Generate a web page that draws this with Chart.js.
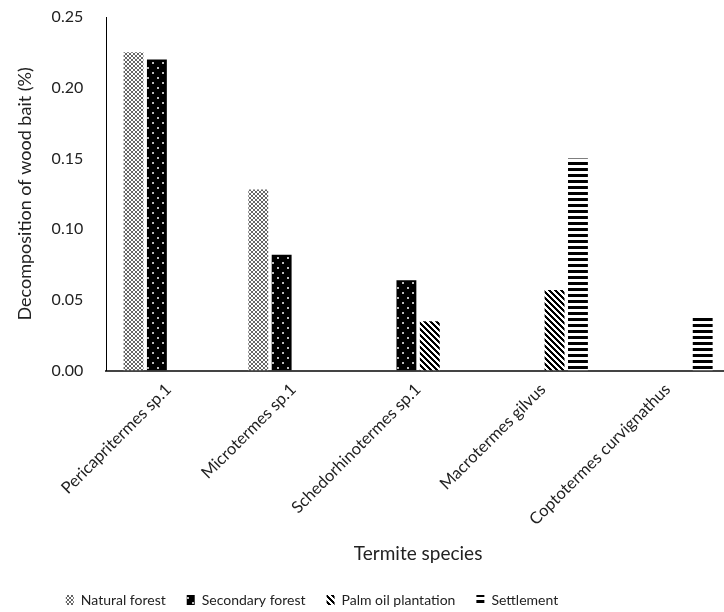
<!DOCTYPE html>
<html>
<head>
<meta charset="utf-8">
<script src="https://cdn.jsdelivr.net/npm/chart.js@4.4.1/dist/chart.umd.min.js"></script>
<style>
  html, body { margin: 0; padding: 0; background: #fff; overflow: hidden; }
  #wrap { width: 730px; height: 612px; }
</style>
</head>
<body>
<div id="wrap"><canvas id="barChart" width="730" height="612"></canvas></div>
<script>
var species = ["Pericapritermes sp.1", "Microtermes sp.1", "Schedorhinotermes sp.1", "Macrotermes gilvus", "Coptotermes curvignathus"];
var naturalForest = [0.225, 0.128, 0, 0, 0];
var secondaryForest = [0.220, 0.082, 0.064, 0, 0];
var palmOil = [0, 0, 0.035, 0.057, 0];
var settlement = [0, 0, 0, 0.150, 0.038];
var yTicks = [0, 0.05, 0.10, 0.15, 0.20, 0.25];

// build the fill patterns (Excel style hatches)
function makePattern(size, draw) {
  var c = document.createElement("canvas");
  c.width = size;
  c.height = size;
  var ctx = c.getContext("2d");
  draw(ctx, size);
  return document.getElementById("barChart").getContext("2d").createPattern(c, "repeat");
}

var latticeFill = makePattern(4, function (ctx, n) {
  ctx.fillStyle = "#fff";
  ctx.fillRect(0, 0, n, n);
  ctx.fillStyle = "#666";
  for (var i = 0; i < n; i++) {
    ctx.fillRect(i, i, 1, 1);
    ctx.fillRect(n - 1 - i, i, 1, 1);
  }
});

var dottedFill = makePattern(10, function (ctx, n) {
  ctx.fillStyle = "#000";
  ctx.fillRect(0, 0, n, n);
  ctx.fillStyle = "#bbb";
  ctx.fillRect(2, 2, 2, 2);
  ctx.fillRect(7, 7, 2, 2);
});

var diagonalFill = makePattern(6, function (ctx, n) {
  ctx.fillStyle = "#fff";
  ctx.fillRect(0, 0, n, n);
  ctx.fillStyle = "#000";
  for (var y = 0; y < n; y++) {
    for (var k = 0; k < 3; k++) {
      ctx.fillRect((y + k) % n, y, 1, 1);
    }
  }
});

var stripeFill = makePattern(6, function (ctx, n) {
  ctx.fillStyle = "#fff";
  ctx.fillRect(0, 0, n, n);
  ctx.fillStyle = "#000";
  ctx.fillRect(0, 0, n, 3);
});

var font = "Lato, 'Open Sans', sans-serif";

// the legend in the picture sits left of centre and a bit lower
var legendShift = {
  id: "legendShift",
  afterLayout: function (chart) {
    chart.legend.left -= 53;
    chart.legend.right -= 53;
    chart.legend.top += 5;
    chart.legend.bottom += 5;
  },
};

var data = {
  labels: species,
  datasets: [
    { label: "Natural forest", data: naturalForest, backgroundColor: latticeFill },
    { label: "Secondary forest", data: secondaryForest, backgroundColor: dottedFill },
    { label: "Palm oil plantation", data: palmOil, backgroundColor: diagonalFill },
    { label: "Settlement", data: settlement, backgroundColor: stripeFill },
  ],
};

var options = {
  responsive: false,
  animation: false,
  devicePixelRatio: 1,
  layout: { padding: { top: 17, right: 0, left: 0, bottom: 0 } },
  datasets: {
    bar: { categoryPercentage: 0.75, barPercentage: 0.85, borderWidth: 0 },
  },
  plugins: {
    tooltip: { enabled: false },
    legend: {
      position: "bottom",
      labels: {
        boxWidth: 8,
        boxHeight: 10,
        padding: 21,
        color: "#222",
        font: { family: font, size: 14 },
      },
    },
  },
  scales: {
    x: {
      grid: { display: false, drawTicks: false },
      border: { color: "#444", width: 2 },
      ticks: {
        color: "#222",
        font: { family: font, size: 16.5 },
        maxRotation: 45,
        minRotation: 45,
        padding: 9,
        autoSkip: false,
      },
      title: {
        display: true,
        text: "Termite species",
        color: "#222",
        font: { family: font, size: 19 },
        padding: { top: 4, bottom: 2 },
      },
    },
    y: {
      min: 0,
      max: 0.25,
      afterBuildTicks: function (axis) {
        axis.ticks = yTicks.map(function (v) { return { value: v }; });
      },
      grid: { display: true, drawOnChartArea: false, drawTicks: true, tickLength: 20, color: "rgba(0,0,0,0)" },
      border: { color: "#000", width: 1 },
      ticks: {
        color: "#222",
        font: { family: font, size: 16 },
        padding: 3,
        callback: function (v) { return v.toFixed(2); },
      },
      title: {
        display: true,
        text: "Decomposition of wood bait (%)",
        color: "#222",
        font: { family: font, size: 18 },
        padding: { top: 14, bottom: 13 },
      },
    },
  },
};

var barChart = new Chart(document.getElementById("barChart"), {
  type: "bar",
  data: data,
  options: options,
  plugins: [legendShift],
});
</script>
</body>
</html>
